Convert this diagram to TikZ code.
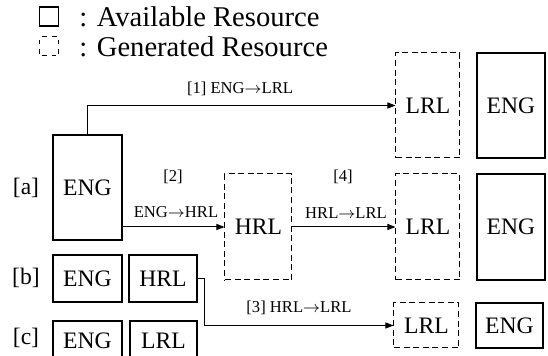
\documentclass[tikz,border=0pt]{standalone}
\usepackage{fontspec}
\setmainfont{Liberation Serif}
\usetikzlibrary{arrows.meta}
\tikzset{
  avail/.style={draw, line width=0.9pt, inner sep=0pt, font=\fontsize{11.8pt}{13pt}\selectfont},
  gen/.style={draw, line width=0.5pt, dash pattern=on 3pt off 1.8pt, inner sep=0pt, font=\fontsize{11.8pt}{13pt}\selectfont},
  conn/.style={line width=0.5pt, -{Triangle[length=4pt,width=3pt]}},
  lab/.style={inner sep=0pt, font=\fontsize{8.3pt}{10pt}\selectfont},
  rowlab/.style={inner sep=0pt, font=\fontsize{11.8pt}{13pt}\selectfont},
  legtext/.style={inner sep=0pt, anchor=west, font=\fontsize{14.3pt}{16pt}\selectfont}
}
\begin{document}
\begin{tikzpicture}[x=0.5pt,y=-0.5pt]
\clip (0,0) rectangle (548,356);
% legend
\node[avail, minimum width=9.5pt, minimum height=9.5pt, line width=0.8pt] (legA) at (49,16.5) {};
\node[gen, minimum width=9.5pt, minimum height=9.5pt, dash pattern=on 2.3pt off 2.5pt, dash phase=-1pt] (legG) at (49.5,46.5) {};
\node[legtext] (legAt) at (79,17) {: Available Resource};
\node[legtext] (legGt) at (79,47) {: Generated Resource};
% row labels
\node[rowlab] (la) at (26,188) {[a]};
\node[rowlab] (lb) at (26,278) {[b]};
\node[rowlab] (lc) at (26,338) {[c]};
% boxes
\node[avail, minimum width=34.5pt, minimum height=52.5pt] (engA) at (87.5,187.5) {ENG};
\node[gen, minimum width=32pt, minimum height=52.5pt] (lrl1) at (428,105.5) {LRL};
\node[avail, minimum width=34pt, minimum height=52.5pt] (eng1) at (511,105.5) {ENG};
\node[gen, minimum width=33.5pt, minimum height=53pt] (hrl2) at (258.5,227) {HRL};
\node[gen, minimum width=32pt, minimum height=53pt] (lrl2) at (428,227) {LRL};
\node[avail, minimum width=34pt, minimum height=53pt] (eng2) at (511,227) {ENG};
\node[avail, minimum width=34.5pt, minimum height=23.5pt] (engB) at (87.5,278.5) {ENG};
\node[avail, minimum width=34pt, minimum height=23.5pt] (hrlB) at (163,278.5) {HRL};
\node[avail, minimum width=34.5pt, minimum height=19.5pt] (engC) at (87.5,340.5) {ENG};
\node[avail, minimum width=33.5pt, minimum height=19.5pt] (lrlC) at (163.5,340.5) {LRL};
\node[gen, minimum width=32.5pt, minimum height=22.5pt] (lrl3) at (426.5,325.5) {LRL};
\node[avail, minimum width=33.5pt, minimum height=22.5pt] (eng3) at (509.5,325.5) {ENG};
% connectors
\draw[conn] (engA.north) |- (lrl1.west);
\draw[conn] (engA.east |- hrl2.west) -- (hrl2.west);
\draw[conn] (hrl2.east) -- (lrl2.west);
\draw[conn, line width=0.45pt] (hrlB.east) -- ++(7,0) |- (lrl3.west);
% connector labels
\node[lab] (l1) at (240,89) {[1] ENG$\rightarrow$LRL};
\node[lab] (l2a) at (173,177) {[2]};
\node[lab] (l2b) at (176,212) {ENG$\rightarrow$HRL};
\node[lab] (l4a) at (343,177) {[4]};
\node[lab] (l4b) at (346,213) {HRL$\rightarrow$LRL};
\node[lab] (l3) at (299,308) {[3] HRL$\rightarrow$LRL};
\end{tikzpicture}
\end{document}
